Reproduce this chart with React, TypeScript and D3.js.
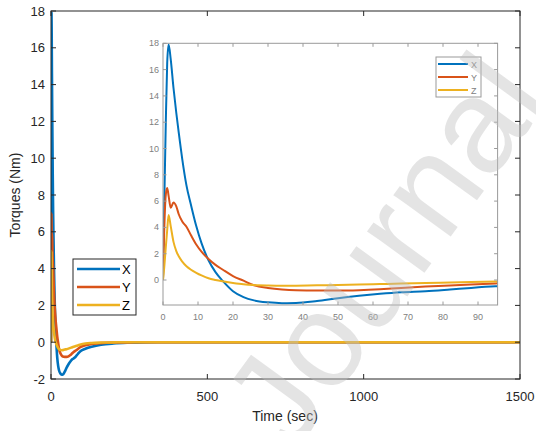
import React from "react";
import * as d3 from "d3";

const time = [0, 0.3, 0.8, 1.2, 1.6, 2.2, 3, 3.8, 4.5, 5.5, 6.7, 8, 9.5, 11, 13, 15, 17, 20, 23, 26, 30, 34, 38, 44, 50, 56, 62, 68, 75, 82, 88, 95, 110, 130, 160, 200, 250, 300, 400, 1500];
const torqueX = [0, 5, 12, 16.5, 17.9, 16.8, 14.6, 12.7, 11.2, 9.2, 7.2, 5.7, 4.1, 2.8, 1.5, 0.6, -0.05, -0.85, -1.3, -1.55, -1.7, -1.76, -1.75, -1.6, -1.38, -1.2, -1.05, -0.93, -0.85, -0.72, -0.6, -0.48, -0.36, -0.25, -0.14, -0.07, -0.03, -0.01, 0, 0];
const torqueY = [0, 3.3, 6.5, 7.0, 6.4, 5.5, 5.9, 5.6, 5.0, 4.45, 4.05, 3.4, 2.7, 2.15, 1.6, 1.15, 0.8, 0.3, -0.05, -0.4, -0.6, -0.72, -0.78, -0.8, -0.8, -0.77, -0.7, -0.6, -0.5, -0.42, -0.34, -0.26, -0.17, -0.1, -0.05, -0.02, -0.01, 0, 0, 0];
const torqueZ = [0, 0.8, 2.5, 3.8, 4.95, 4.1, 2.9, 2.2, 1.8, 1.4, 1.05, 0.78, 0.55, 0.35, 0.13, 0.0, -0.1, -0.22, -0.32, -0.38, -0.42, -0.44, -0.43, -0.4, -0.38, -0.35, -0.31, -0.27, -0.23, -0.19, -0.16, -0.12, -0.07, -0.04, -0.02, -0.01, 0, 0, 0, 0];

const seriesNames = ["X", "Y", "Z"];
const seriesColors = ["#0072BD", "#D95319", "#EDB120"];
const seriesValues = [torqueX, torqueY, torqueZ];

const mainXTicks = [0, 500, 1000, 1500];
const mainYTicks = [-2, 0, 2, 4, 6, 8, 10, 12, 14, 16, 18];
const insetXTicks = [0, 10, 20, 30, 40, 50, 60, 70, 80, 90];
const insetYTicks = [0, 2, 4, 6, 8, 10, 12, 14, 16, 18];

const FONT = "'Liberation Sans', Arial, Helvetica, sans-serif";

export default function App() {
  // main axes
  const mx = d3.scaleLinear().domain([0, 1500]).range([51, 520]);
  const my = d3.scaleLinear().domain([-2, 18]).range([379, 11]);
  // inset axes
  const ix = d3.scaleLinear().domain([0, 95.6]).range([163, 497.6]);
  const iy = d3.scaleLinear().domain([-1.9, 18]).range([305, 43.3]);

  const mainLine = (vals: number[]) =>
    d3.line<number>().x((_, i) => mx(time[i])).y((v) => my(v)).curve(d3.curveMonotoneX)(vals) || "";
  const insetLine = (vals: number[]) =>
    d3.line<number>().x((_, i) => ix(time[i])).y((v) => iy(v)).curve(d3.curveMonotoneX)(vals) || "";

  const axisCol = "#262626";
  const insetCol = "#9a9a9a";
  const insetText = "#808080";
  const [mx0, mx1] = mx.range();
  const [my0, my1] = my.range();
  const [ix0, ix1] = ix.range();
  const [iy0, iy1] = iy.range();

  return (
    <svg width={536} height={431} style={{ position: "absolute", left: 0, top: 0, background: "#fff" }} fontFamily={FONT}>
      <rect x={0} y={0} width={536} height={431} fill="#fff" />
      <defs>
        <clipPath id="mainClip">
          <rect x={mx0} y={my1} width={mx1 - mx0} height={my0 - my1} />
        </clipPath>
        <clipPath id="insetClip">
          <rect x={ix0} y={iy1} width={ix1 - ix0} height={iy0 - iy1} />
        </clipPath>
      </defs>

      {/* main plot lines */}
      <g clipPath="url(#mainClip)">
        {seriesValues.map((vals, k) => (
          <path key={k} d={mainLine(vals)} fill="none" stroke={seriesColors[k]} strokeWidth={2.6} strokeLinejoin="round" />
        ))}
      </g>

      {/* main axes box */}
      <rect x={mx0} y={my1} width={mx1 - mx0} height={my0 - my1} fill="none" stroke={axisCol} strokeWidth={1} />
      {mainXTicks.map((t) => (
        <g key={"mxt" + t}>
          <line x1={mx(t)} x2={mx(t)} y1={my0} y2={my0 - 5} stroke={axisCol} />
          <line x1={mx(t)} x2={mx(t)} y1={my1} y2={my1 + 5} stroke={axisCol} />
          <text x={mx(t)} y={401} textAnchor="middle" fontSize={13} fill={axisCol}>{t}</text>
        </g>
      ))}
      {mainYTicks.map((t) => (
        <g key={"myt" + t}>
          <line x1={mx0} x2={mx0 + 5} y1={my(t)} y2={my(t)} stroke={axisCol} />
          <line x1={mx1} x2={mx1 - 5} y1={my(t)} y2={my(t)} stroke={axisCol} />
          <text x={45} y={my(t) + 4.5} textAnchor="end" fontSize={13} fill={axisCol}>{t}</text>
        </g>
      ))}
      <text x={285} y={421} textAnchor="middle" fontSize={14} fill={axisCol}>Time (sec)</text>
      <text transform={`translate(20,${(my0 + my1) / 2}) rotate(-90)`} textAnchor="middle" fontSize={14} fill={axisCol}>Torques (Nm)</text>

      {/* main legend */}
      <rect x={73} y={259} width={63} height={56} fill="#fff" stroke={axisCol} strokeWidth={1} />
      {seriesNames.map((n, k) => (
        <g key={"ml" + n}>
          <line x1={77} x2={120} y1={269 + k * 18} y2={269 + k * 18} stroke={seriesColors[k]} strokeWidth={2.6} />
          <text x={122} y={269 + k * 18 + 5} fontSize={13} fill="#000">{n}</text>
        </g>
      ))}

      {/* inset */}
      <rect x={ix0} y={iy1} width={ix1 - ix0} height={iy0 - iy1} fill="#fff" />
      <g clipPath="url(#insetClip)">
        {seriesValues.map((vals, k) => (
          <path key={k} d={insetLine(vals)} fill="none" stroke={seriesColors[k]} strokeWidth={2} strokeLinejoin="round" />
        ))}
      </g>
      <rect x={ix0} y={iy1} width={ix1 - ix0} height={iy0 - iy1} fill="none" stroke={insetCol} strokeWidth={1} />
      {insetXTicks.map((t) => (
        <g key={"ixt" + t}>
          <line x1={ix(t)} x2={ix(t)} y1={iy0} y2={iy0 - 3.5} stroke={insetCol} />
          <line x1={ix(t)} x2={ix(t)} y1={iy1} y2={iy1 + 3.5} stroke={insetCol} />
          <text x={ix(t)} y={320} textAnchor="middle" fontSize={9} fill={insetText}>{t}</text>
        </g>
      ))}
      {insetYTicks.map((t) => (
        <g key={"iyt" + t}>
          <line x1={ix0} x2={ix0 + 3.5} y1={iy(t)} y2={iy(t)} stroke={insetCol} />
          <line x1={ix1} x2={ix1 - 3.5} y1={iy(t)} y2={iy(t)} stroke={insetCol} />
          <text x={159} y={iy(t) + 3} textAnchor="end" fontSize={9} fill={insetText}>{t}</text>
        </g>
      ))}
      {/* inset legend */}
      <rect x={436} y={57} width={45} height={40} fill="#fff" stroke={insetCol} strokeWidth={1} />
      {seriesNames.map((n, k) => (
        <g key={"il" + n}>
          <line x1={438} x2={468} y1={64 + k * 13} y2={64 + k * 13} stroke={seriesColors[k]} strokeWidth={2} />
          <text x={471} y={64 + k * 13 + 3.5} fontSize={9} fill={insetText}>{n}</text>
        </g>
      ))}

      {/* watermark */}
      <text transform="translate(292,455) rotate(-54)" fontSize={134} fill="#bfbfbf" fillOpacity={0.42} fontFamily={FONT}>Journal</text>
    </svg>
  );
}
